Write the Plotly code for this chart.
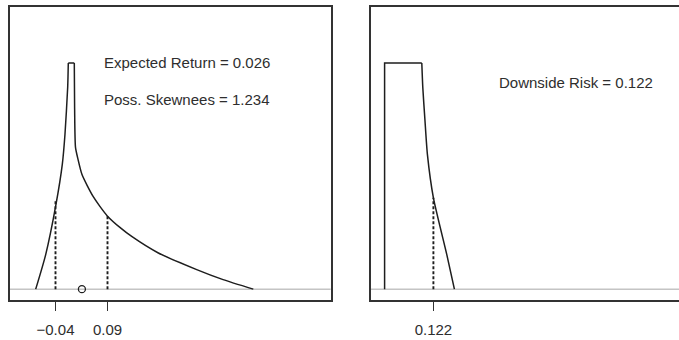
import plotly.graph_objects as go

# ---------------- data ----------------
# Left panel: possibility distribution of returns
rise_x = [-0.0895, -0.0645, -0.0388, -0.023, -0.0163, -0.0095, -0.008]
rise_y = [0.0, 0.153, 0.375, 0.552, 0.685, 0.894, 1.0]
top_x = [-0.008, 0.007]
top_y = [1.0, 1.0]
tail_x = [0.007, 0.0078, 0.010, 0.0163, 0.026, 0.039, 0.054, 0.071,
          0.0895, 0.121, 0.1505, 0.216, 0.313, 0.379, 0.4545]
tail_y = [1.0, 0.80, 0.627, 0.574, 0.508, 0.459, 0.410, 0.366,
          0.324, 0.273, 0.233, 0.161, 0.0865, 0.042, 0.0]
left_cuts_x = [-0.04, 0.09]
left_cuts_y = [0.389, 0.324]
left_tick_labels = ["\u22120.04", "0.09"]
expected_return = 0.026
poss_skewness = 1.234

# Right panel: downside part
box_x = [0.0, 0.0, 0.093]
box_y = [0.0, 1.0, 1.0]
drop_x = [0.093, 0.0955, 0.101, 0.107, 0.122, 0.1555, 0.1745]
drop_y = [1.0, 0.892, 0.744, 0.596, 0.404, 0.153, 0.0]
downside_risk = 0.122
right_cut_y = 0.404
right_tick_labels = ["0.122"]

# ---------------- figure ----------------
W, H = 679, 340
LINE = "#1e1e1e"
AXIS = "#333333"
GRAY = "#c4c4c4"
FONT = dict(family="Arial, Liberation Sans, Helvetica, sans-serif", size=15, color="#2e2e2e")
LW = 1.5

fig = go.Figure()


def add_line(xs, ys, xa, ya, shape="linear", dash=None, width=LW):
    fig.add_trace(go.Scatter(x=xs, y=ys, mode="lines",
                             line=dict(color=LINE, width=width, shape=shape,
                                       smoothing=0.6 if shape == "spline" else None,
                                       dash=dash),
                             xaxis=xa, yaxis=ya, hoverinfo="skip", showlegend=False))


# left curve
add_line(rise_x, rise_y, "x", "y", "spline")
add_line(top_x, top_y, "x", "y")
add_line(tail_x, tail_y, "x", "y", "spline")
# left dashed cuts
for cx, cy in zip(left_cuts_x, left_cuts_y):
    add_line([cx, cx], [0, cy], "x", "y", dash="3px,2px", width=1.9)
# expected return marker
fig.add_trace(go.Scatter(x=[expected_return], y=[0], mode="markers",
                         marker=dict(symbol="circle-open", size=7, color=LINE,
                                     line=dict(width=1.3, color=LINE)),
                         xaxis="x", yaxis="y", hoverinfo="skip", showlegend=False))

# right curve
add_line(box_x, box_y, "x2", "y2")
add_line(drop_x, drop_y, "x2", "y2", "spline")
add_line([downside_risk, downside_risk], [0, right_cut_y], "x2", "y2", dash="3px,2px", width=1.9)

# gray zero baselines
fig.add_shape(type="line", xref="x domain", yref="y", x0=0, x1=1, y0=0, y1=0,
              line=dict(color=GRAY, width=1.5), layer="below")
fig.add_shape(type="line", xref="x2 domain", yref="y2", x0=0, x1=1, y0=0, y1=0,
              line=dict(color=GRAY, width=1.5), layer="below")

# annotations
fig.add_annotation(x=0.0755, y=1.003, xref="x", yref="y", xanchor="left", yanchor="middle",
                   text=f"Expected Return = {expected_return:.3f}", showarrow=False, font=FONT)
fig.add_annotation(x=0.0755, y=0.840, xref="x", yref="y", xanchor="left", yanchor="middle",
                   text=f"Poss. Skewnees = {poss_skewness:.3f}", showarrow=False, font=FONT)
fig.add_annotation(x=0.2805, y=0.914, xref="x2", yref="y2", xanchor="left", yanchor="middle",
                   text=f"Downside Risk = {downside_risk:.3f}", showarrow=False, font=FONT)

ydom = [(H - 300) / H, (H - 7) / H]
yrange = [-0.048, 1.248]

axis_common = dict(showgrid=False, zeroline=False, showline=True, linecolor=AXIS,
                   linewidth=1.5, ticks="outside", ticklen=9, tickwidth=1.3,
                   tickcolor=AXIS, tickfont=FONT, ticklabelstandoff=6)

fig.update_layout(
    width=W, height=H,
    margin=dict(l=0, r=0, t=0, b=0),
    paper_bgcolor="white", plot_bgcolor="white",
    xaxis=dict(domain=[9.5 / W, 330.7 / W], range=[-0.155, 0.648],
               tickvals=left_cuts_x, ticktext=left_tick_labels, mirror=True,
               anchor="y", **axis_common),
    yaxis=dict(domain=ydom, range=yrange, showgrid=False, zeroline=False,
               showline=True, mirror=True, linecolor=AXIS, linewidth=1.5,
               showticklabels=False, ticks="", anchor="x"),
    xaxis2=dict(domain=[371 / W, 1.0], range=[-0.034, 0.736],
                tickvals=[downside_risk], ticktext=right_tick_labels, mirror=True,
                anchor="y2", **axis_common),
    yaxis2=dict(domain=ydom, range=yrange, showgrid=False, zeroline=False,
                showline=True, mirror=False, linecolor=AXIS, linewidth=1.5,
                showticklabels=False, ticks="", anchor="x2"),
)

fig.write_html("out.html")
